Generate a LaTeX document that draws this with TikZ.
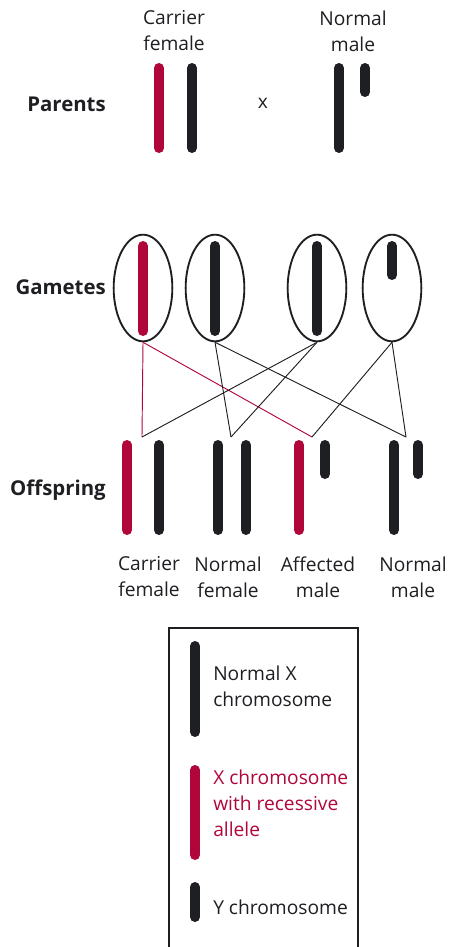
\documentclass[tikz,border=0pt]{standalone}
\usepackage{fontspec}
\setmainfont{Open Sans}
\usetikzlibrary{shapes.geometric}
\definecolor{allelered}{HTML}{B0063A}
\definecolor{chromblack}{HTML}{1E1F22}

\begin{document}
\begin{tikzpicture}[x=0.75pt,y=-0.75pt,
  chrom/.style={line width=7.5pt,line cap=round,draw=chromblack},
  rchrom/.style={chrom,draw=allelered},
  lbl/.style={font=\fontsize{14.4}{19.5}\selectfont,text=chromblack,align=center,inner sep=0pt},
  rowlbl/.style={font=\fontsize{15.3}{19.5}\selectfont\bfseries,text=chromblack,inner sep=0pt,anchor=east},
  gamete/.style={ellipse,draw=chromblack,line width=1.4pt,minimum width=44pt,minimum height=80pt,inner sep=0pt},
  link/.style={draw=chromblack,line width=0.7pt}]
\useasboundingbox (0,0) rectangle (449,947);

% row labels
\node[rowlbl] (parents) at (106,104) {Parents};
\node[rowlbl] (gametes) at (106,287) {Gametes};
\node[rowlbl] (offspring) at (106,490) {Offspring};

% parents
\node[lbl] (mother) at (174,31) {Carrier\\female};
\node[lbl] (father) at (353,31) {Normal\\male};
\node[lbl] (cross) at (263,103) {x};
\draw[rchrom] (159,68) -- (159,148);
\draw[chrom] (192,68) -- (192,148);
\draw[chrom] (339,68) -- (339,148);
\draw[chrom] (365,68) -- (365,92);

% gametes
\node[gamete] (g1) at (143,288) {};
\node[gamete] (g2) at (215,288) {};
\node[gamete] (g3) at (317,288) {};
\node[gamete] (g4) at (392,288) {};
\draw[rchrom] (143,246) -- (143,331);
\draw[chrom] (215,246) -- (215,331);
\draw[chrom] (317,246) -- (317,331);
\draw[chrom] (392,246) -- (392,275);

% fertilisation
\coordinate (o1) at (142,437);
\coordinate (o2) at (231,437);
\coordinate (o3) at (312,437);
\coordinate (o4) at (406,437);
\draw[link,draw=allelered] (g1.south) -- (o1);
\draw[link,draw=allelered] (g1.south) -- (o3);
\draw[link] (g2.south) -- (o2);
\draw[link] (g2.south) -- (o4);
\draw[link] (g3.south) -- (o1);
\draw[link] (g3.south) -- (o2);
\draw[link] (g4.south) -- (o3);
\draw[link] (g4.south) -- (o4);

% offspring
\draw[rchrom] (127,445) -- (127,530);
\draw[chrom] (159,445) -- (159,530);
\draw[chrom] (218,445) -- (218,530);
\draw[chrom] (246,445) -- (246,530);
\draw[rchrom] (299,445) -- (299,530);
\draw[chrom] (325,445) -- (325,474);
\draw[chrom] (394,445) -- (394,530);
\draw[chrom] (418,445) -- (418,474);
\node[lbl] (kid1) at (149,577) {Carrier\\female};
\node[lbl] (kid2) at (228,577) {Normal\\female};
\node[lbl] (kid3) at (318,577) {Affected\\male};
\node[lbl] (kid4) at (413,577) {Normal\\male};

% key
\draw[chromblack,line width=0.9pt] (169,947) -- (169,628) -- (358,628) -- (358,947);
\draw[chrom] (195,646) -- (195,732);
\draw[rchrom] (195,770) -- (195,855);
\draw[chrom] (195,887) -- (195,917);
\node[lbl,anchor=west,align=left] (keyx) at (213,686) {Normal X\\chromosome};
\node[lbl,anchor=west,align=left,text=allelered] (keyr) at (213,803) {X chromosome\\with recessive\\allele};
\node[lbl,anchor=west,align=left] (keyy) at (213,907) {Y chromosome};
\end{tikzpicture}
\end{document}
